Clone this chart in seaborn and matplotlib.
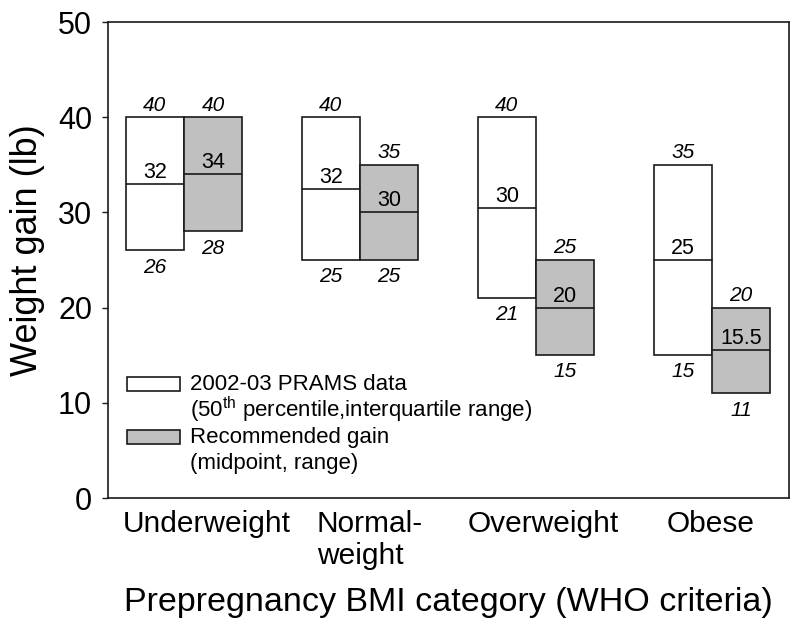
import matplotlib
matplotlib.use("Agg")
import matplotlib.pyplot as plt
import matplotlib.transforms as mtrans
from matplotlib.patches import Rectangle
import seaborn as sns
import numpy as np

categories = ["Underweight", "Normal-\nweight", "Overweight", "Obese"]
prams_low = [26, 25, 21, 15]
prams_mid = [33, 32.5, 30.5, 25]
prams_high = [40, 40, 40, 35]
prams_mid_labels = ["32", "32", "30", "25"]
rec_low = [28, 25, 15, 11]
rec_mid = [34, 30, 20, 15.5]
rec_high = [40, 35, 25, 20]
rec_mid_labels = ["34", "30", "20", "15.5"]
yticks = [0, 10, 20, 30, 40, 50]

sns.set_style("ticks")
plt.rcParams["font.family"] = ["Liberation Sans", "DejaVu Sans"]
plt.rcParams["mathtext.fontset"] = "custom"
plt.rcParams["mathtext.rm"] = "Liberation Sans"
for k in ["text.color", "axes.labelcolor", "xtick.color", "ytick.color"]:
    plt.rcParams[k] = "black"

fig = plt.figure(figsize=(8, 6.29), dpi=100)
AX_L, AX_R, AX_T, AX_B = 108, 789, 22, 498
ax = fig.add_axes([AX_L / 800, 1 - AX_B / 629, (AX_R - AX_L) / 800, (AX_B - AX_T) / 629])

x = np.arange(len(categories))
w = 0.332
gray = "#c0c0c0"
edge = "#1a1a1a"

def draw(xpos, lows, mids, highs, midlabels, color):
    heights = [h - l for h, l in zip(highs, lows)]
    ax.bar(xpos, heights, width=w, bottom=lows, color=color,
           edgecolor=edge, linewidth=1.2, zorder=2)
    for xi, lo, mi, hi, ml in zip(xpos, lows, mids, highs, midlabels):
        ax.plot([xi - w / 2, xi + w / 2], [mi, mi], color=edge, lw=1.2, zorder=3)
        ax.annotate(f"{hi:g}", (xi, hi), xytext=(0, 4.8), textcoords="offset points",
                    ha="center", va="baseline", fontsize=15, style="italic")
        ax.annotate(f"{lo:g}", (xi, lo), xytext=(0, -16), textcoords="offset points",
                    ha="center", va="baseline", fontsize=15, style="italic")
        ax.annotate(ml, (xi, mi), xytext=(0, 4.3), textcoords="offset points",
                    ha="center", va="baseline", fontsize=15.5)

draw(x - w / 2, prams_low, prams_mid, prams_high, prams_mid_labels, "white")
draw(x + w / 2, rec_low, rec_mid, rec_high, rec_mid_labels, gray)

ax.set_xlim(-0.432, 3.4375)
ax.set_ylim(0, 50)
ax.set_yticks(yticks)
ax.set_yticklabels([str(t) for t in yticks], fontsize=22)
ax.set_xticks(x)
ax.set_xticklabels(categories, fontsize=21.5, multialignment="left")
ax.tick_params(axis="x", length=0, pad=8.5)
ax.tick_params(axis="y", length=4.5, width=1, pad=7, direction="out", color=edge)
# hand-placed category labels in the original: small horizontal shifts (pixels)
label_shift_px = [23, 10, 7, -1]
for lab, dx in zip(ax.get_xticklabels(), label_shift_px):
    lab.set_transform(lab.get_transform() + mtrans.ScaledTranslation(dx / 100, 0, fig.dpi_scale_trans))
for s in ax.spines.values():
    s.set_linewidth(1.2)
    s.set_color(edge)
    s.set_visible(True)
ax.set_ylabel("Weight gain (lb)", fontsize=26)
ax.yaxis.set_label_coords(-0.092, (AX_B - 250) / (AX_B - AX_T))
ax.set_xlabel("Prepregnancy BMI category (WHO criteria)", fontsize=24.5, labelpad=12)

# legend (manual)
tr = ax.transAxes
def ax_xy(px, py):
    return ((px - AX_L) / (AX_R - AX_L), (AX_B - py) / (AX_B - AX_T))

for (top, bot), fc in [((377, 391), "white"), ((430, 444), gray)]:
    x0, y0 = ax_xy(127, bot)
    x1, y1 = ax_xy(180, top)
    ax.add_patch(Rectangle((x0, y0), x1 - x0, y1 - y0, transform=tr, facecolor=fc,
                           edgecolor=edge, lw=1.2, zorder=4))
lines = [("2002-03 PRAMS data", 390),
         ("(50$^{\\mathrm{th}}$ percentile,interquartile range)", 417),
         ("Recommended gain", 443),
         ("(midpoint, range)", 469)]
for txt, py in lines:
    tx, ty = ax_xy(190, py)
    ax.text(tx, ty, txt, transform=tr, ha="left", va="baseline", fontsize=16)

fig.savefig("out.png", dpi=100)
